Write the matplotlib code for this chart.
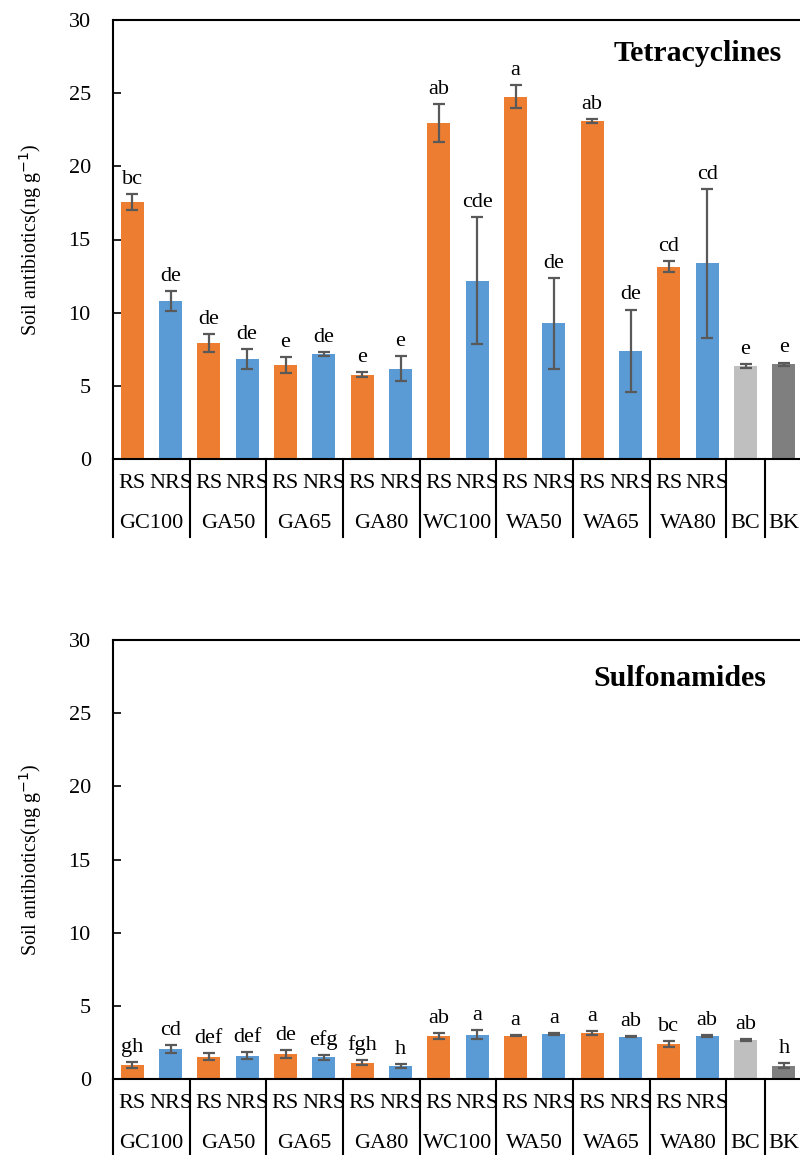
import matplotlib
matplotlib.use("Agg")
import matplotlib.pyplot as plt
import matplotlib.transforms as mtransforms

plt.rcParams['font.family'] = ['Liberation Serif', 'DejaVu Serif']

groups = ["GC100", "GA50", "GA65", "GA80", "WC100", "WA50", "WA65", "WA80", "BC", "BK"]
sub_labels = ["RS", "NRS"] * 8 + ["", ""]
bar_kind = ["RS", "NRS"] * 8 + ["BC", "BK"]

tc_values = [17.57, 10.8, 7.92, 6.84, 6.44, 7.19, 5.75, 6.18,
             22.95, 12.19, 24.76, 9.27, 23.09, 7.41, 13.14, 13.37, 6.37, 6.46]
tc_errors = [0.55, 0.68, 0.6, 0.7, 0.55, 0.13, 0.18, 0.84,
             1.3, 4.36, 0.77, 3.1, 0.13, 2.8, 0.38, 5.1, 0.12, 0.13]
tc_letters = ["bc", "de", "de", "de", "e", "de", "e", "e",
              "ab", "cde", "a", "de", "ab", "de", "cd", "cd", "e", "e"]

sa_values = [0.95, 2.05, 1.52, 1.59, 1.73, 1.48, 1.11, 0.86,
             2.95, 3.02, 2.95, 3.09, 3.16, 2.89, 2.41, 2.95, 2.68, 0.91]
sa_errors = [0.2, 0.27, 0.25, 0.24, 0.27, 0.17, 0.16, 0.14,
             0.19, 0.3, 0.04, 0.05, 0.12, 0.05, 0.19, 0.07, 0.07, 0.16]
sa_letters = ["gh", "cd", "def", "def", "de", "efg", "fgh", "h",
              "ab", "a", "a", "a", "a", "ab", "bc", "ab", "ab", "h"]

yticks = [0, 5, 10, 15, 20, 25, 30]
colors = {"RS": "#ED7D31", "NRS": "#5B9BD5", "BC": "#BFBFBF", "BK": "#7F7F7F"}

W, H = 800, 1155
fig = plt.figure(figsize=(W / 100, H / 100), dpi=100)


def make_panel(top_px, bottom_px, values, errors, letters, title, title_xy):
    left_px, right_px = 113, 803
    ax = fig.add_axes([left_px / W, 1 - bottom_px / H,
                       (right_px - left_px) / W, (bottom_px - top_px) / H])
    x = list(range(len(values)))
    ax.bar(x, values, width=0.6, color=[colors[k] for k in bar_kind], zorder=2)
    ax.errorbar(x, values, yerr=errors, fmt='none', ecolor='#595959',
                elinewidth=1.6, capsize=4.5, capthick=1.6, zorder=3)
    for xi, v, e, lab in zip(x, values, errors, letters):
        ax.text(xi, v + e + 0.35, lab, ha='center', va='bottom', fontsize=16)
    ax.set_xlim(-0.5, len(values) - 0.5)
    ax.set_ylim(0, 30)
    ax.set_yticks(yticks)
    ax.set_yticklabels([str(t) for t in yticks], fontsize=16)
    ax.tick_params(axis='y', direction='in', length=6, width=1.2, pad=16)
    ax.set_xticks([])
    for s in ['left', 'top', 'bottom']:
        ax.spines[s].set_linewidth(1.5)
    ax.spines['right'].set_visible(False)
    ax.set_ylabel("Soil antibiotics(ng g$^{-1}$)", fontsize=14.5, labelpad=18)
    ax.text(title_xy[0], title_xy[1], title, transform=ax.transAxes,
            ha='center', va='center', fontsize=21.5, fontweight='bold')

    trans = mtransforms.blended_transform_factory(ax.transData, ax.transAxes)
    h = bottom_px - top_px
    low = -78 / h
    seps = [-0.5] + [1.5 + 2 * i for i in range(8)] + [16.5, 17.5]
    for s in seps:
        ax.plot([s, s], [0, low], transform=trans, color='black', lw=1.5,
                clip_on=False)
    for i, lab in enumerate(sub_labels):
        if lab:
            ax.text(i, -25 / h, lab, transform=trans, ha='center', va='center',
                    fontsize=16)
    centers = [0.5 + 2 * i for i in range(8)] + [16, 17]
    for c, g in zip(centers, groups):
        ax.text(c, -65 / h, g, transform=trans, ha='center', va='center',
                fontsize=16)
    return ax


make_panel(20, 459, tc_values, tc_errors, tc_letters, "Tetracyclines", (0.847, 0.923))
make_panel(640, 1079, sa_values, sa_errors, sa_letters, "Sulfonamides", (0.822, 0.913))

fig.savefig("out.png", dpi=100)
